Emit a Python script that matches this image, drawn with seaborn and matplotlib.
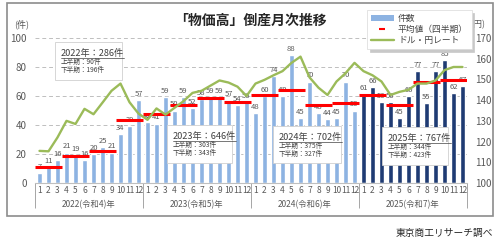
import numpy as np
import pandas as pd
import matplotlib
matplotlib.use("Agg")
import matplotlib.pyplot as plt
import seaborn as sns
from matplotlib.patches import Rectangle, Patch
from matplotlib.lines import Line2D

# ---------------- data ----------------
years = ["2022(令和4)年", "2023(令和5)年", "2024(令和6)年", "2025(令和7)年"]
months = list(range(1, 13))
counts_2022 = [7, 11, 16, 21, 19, 16, 20, 25, 21, 34, 39, 57]
counts_2023 = [42, 41, 59, 50, 59, 52, 58, 59, 59, 57, 54, 56]
counts_2024 = [48, 60, 74, 60, 88, 45, 70, 48, 44, 45, 70, 50]
counts_2025 = [61, 66, 56, 56, 45, 60, 77, 55, 77, 85, 62, 67]
rate_2022 = [115.5, 115.3, 122.0, 130.0, 128.5, 135.8, 133.2, 138.8, 144.5, 148.0, 139.0, 133.5]
rate_2023 = [130.5, 136.0, 133.0, 136.3, 139.5, 143.5, 144.5, 147.0, 149.5, 148.5, 146.5, 142.0]
rate_2024 = [148.0, 149.8, 152.0, 154.0, 158.0, 161.0, 151.0, 146.0, 142.5, 149.0, 153.0, 158.0]
rate_2025 = [154.0, 152.0, 149.0, 142.5, 144.0, 145.0, 148.0, 148.0, 149.5, 154.5, 156.0, 156.0]
box_titles = ["2022年：286件", "2023年：646件", "2024年：702件", "2025年：767件"]
box_h1 = ["上半期：90件", "上半期：303件", "上半期：375件", "上半期：344件"]
box_h2 = ["下半期：196件", "下半期：343件", "下半期：327件", "下半期：423件"]

counts = counts_2022 + counts_2023 + counts_2024 + counts_2025
rates = rate_2022 + rate_2023 + rate_2024 + rate_2025
n = len(counts)
df = pd.DataFrame({
    "idx": np.arange(n),
    "count": counts,
    "rate": rates,
    "grp": ["light"] * 36 + ["dark"] * 12,
})
qavg = [np.mean(counts[q * 3:(q + 1) * 3]) for q in range(n // 3)]

# ---------------- style ----------------
sns.set_style("white")
plt.rcParams["font.family"] = ["Noto Sans CJK JP", "DejaVu Sans"]

W, H = 500, 245
fig = plt.figure(figsize=(W / 100, H / 100), dpi=100)
fig.patch.set_facecolor("white")


def px(x, y):
    return x / W, 1 - y / H


L, R, T, B = 35, 467, 38, 183
ax = fig.add_axes([L / W, 1 - B / H, (R - L) / W, (B - T) / H])

LIGHT = "#8DB3E2"
DARK = "#1F3B73"
GREEN = "#9BBB59"
RED = "#FF0000"
GREY = "#595959"

sns.barplot(data=df, x="idx", y="count", hue="grp",
            palette={"light": LIGHT, "dark": DARK}, dodge=False,
            width=0.66, legend=False, saturation=1, ax=ax)
for c in ax.containers:
    ax.bar_label(c, fontsize=5.5, color=GREY, padding=1.5)

# quarterly averages
ax.hlines(qavg, np.arange(0, n, 3) - 0.5, np.arange(0, n, 3) + 2.5,
          color=RED, lw=2.2, zorder=4)

ax.set_xlim(-0.5, n - 0.5)
ax.set_ylim(0, 100)
ax.set_yticks(range(0, 101, 20))
ax.set_xlabel("")
ax.set_ylabel("")
ax.yaxis.grid(True, linestyle=(0, (4, 3)), color="#BFBFBF", lw=0.7)
ax.set_axisbelow(True)
for s in ["top", "left", "right"]:
    ax.spines[s].set_visible(False)
ax.spines["bottom"].set_color("#BFBFBF")
ax.spines["bottom"].set_linewidth(0.8)

ax.set_xticks(range(n), labels=months * 4)
ax.set_xticks(np.arange(-0.5, n, 1), minor=True)
ax.tick_params(axis="x", which="major", length=0, pad=2, labelsize=6, labelcolor=GREY)
ax.tick_params(axis="x", which="minor", length=7.5, width=0.7, color="#A6A6A6")
ax.tick_params(axis="y", length=0, pad=6, labelsize=7, labelcolor=GREY)

sec = ax.secondary_xaxis("bottom")
sec.set_xticks(np.arange(-0.5, n + 1, 12), labels=[""] * 5)
sec.set_xticks(np.arange(5.5, n, 12), labels=years, minor=True)
sec.tick_params(which="major", length=18, width=0.7, color="#A6A6A6")
sec.tick_params(which="minor", length=0, pad=12, labelsize=6, labelcolor=GREY)
sec.spines["bottom"].set_visible(False)

# exchange rate
ax2 = ax.twinx()
sns.lineplot(data=df, x="idx", y="rate", color=GREEN, lw=1.7, ax=ax2)
ax2.set_ylim(100, 170)
ax2.set_yticks(range(100, 171, 10))
ax2.set_ylabel("")
ax2.set_xlim(-0.5, n - 0.5)
ax2.tick_params(axis="y", length=0, pad=6, labelsize=7, labelcolor=GREY)
for s in ax2.spines.values():
    s.set_visible(False)

# texts
fig.text(*px(250, 21), "「物価高」倒産月次推移", ha="center", va="center",
         fontsize=10, fontweight="bold", color="#262626")
fig.text(*px(22, 24), "(件)", ha="center", va="center", fontsize=6.5, color=GREY)
fig.text(*px(478, 25), "(円)", ha="center", va="center", fontsize=6.5, color=GREY)
fig.text(*px(493, 233), "東京商工リサーチ調べ", ha="right", va="center",
         fontsize=7, color="#262626")

# outer border
fig.patches.append(Rectangle(px(7, 216), (493 - 7) / W, (216 - 3) / H,
                             transform=fig.transFigure, fill=False,
                             edgecolor="#8C8C8C", lw=1.2, zorder=1))

# annotation boxes
boxes = [(55, 42, 122, 80), (167, 125, 232, 163), (273, 126, 341, 163), (382, 127, 448, 165)]
title_objs = []
for (x0, y0, x1, y1), t, h1, h2 in zip(boxes, box_titles, box_h1, box_h2):
    fig.patches.append(Rectangle(px(x0, y1), (x1 - x0) / W, (y1 - y0) / H,
                                 transform=fig.transFigure, facecolor="white",
                                 edgecolor="#D0D0D0", lw=0.6, zorder=3))
    tx = x0 + 6
    to = fig.text(*px(tx, y0 + 11), t, ha="left", va="center", fontsize=6.6,
                  color="#404040", zorder=4)
    fig.text(*px(tx, y0 + 20), h1, ha="left", va="center", fontsize=4.8,
             color="#404040", zorder=4)
    fig.text(*px(tx, y0 + 28), h2, ha="left", va="center", fontsize=4.8,
             color="#404040", zorder=4)
    title_objs.append((to, y0 + 16))

fig.canvas.draw()
r = fig.canvas.get_renderer()
for to, yy in title_objs:
    bb = to.get_window_extent(r)
    fig.add_artist(Line2D([bb.x0 / W, bb.x1 / W], [1 - yy / H, 1 - yy / H],
                          transform=fig.transFigure, color="#404040", lw=0.5, zorder=4))

# legend
handles = [Patch(facecolor=LIGHT, edgecolor="none"),
           Line2D([0], [0], color=RED, lw=0, marker="_", markersize=5, mew=1.5),
           Line2D([0], [0], color=GREEN, lw=1.7)]
labels = ["件数", "平均値（四半期）", "ドル・円レート"]
leg = fig.legend(handles, labels, loc="upper left", bbox_to_anchor=px(363, 6),
                 fontsize=6.3, frameon=True, fancybox=False, edgecolor="#D9D9D9",
                 handlelength=2.6, handleheight=0.6, labelspacing=0.25, borderpad=0.4,
                 handletextpad=0.5, shadow={"ox": 2, "oy": -2, "color": "#C8C8C8", "alpha": 1})
leg.get_frame().set_linewidth(0.5)
for t in leg.get_texts():
    t.set_color("#404040")

fig.savefig("out.png", dpi=100)
